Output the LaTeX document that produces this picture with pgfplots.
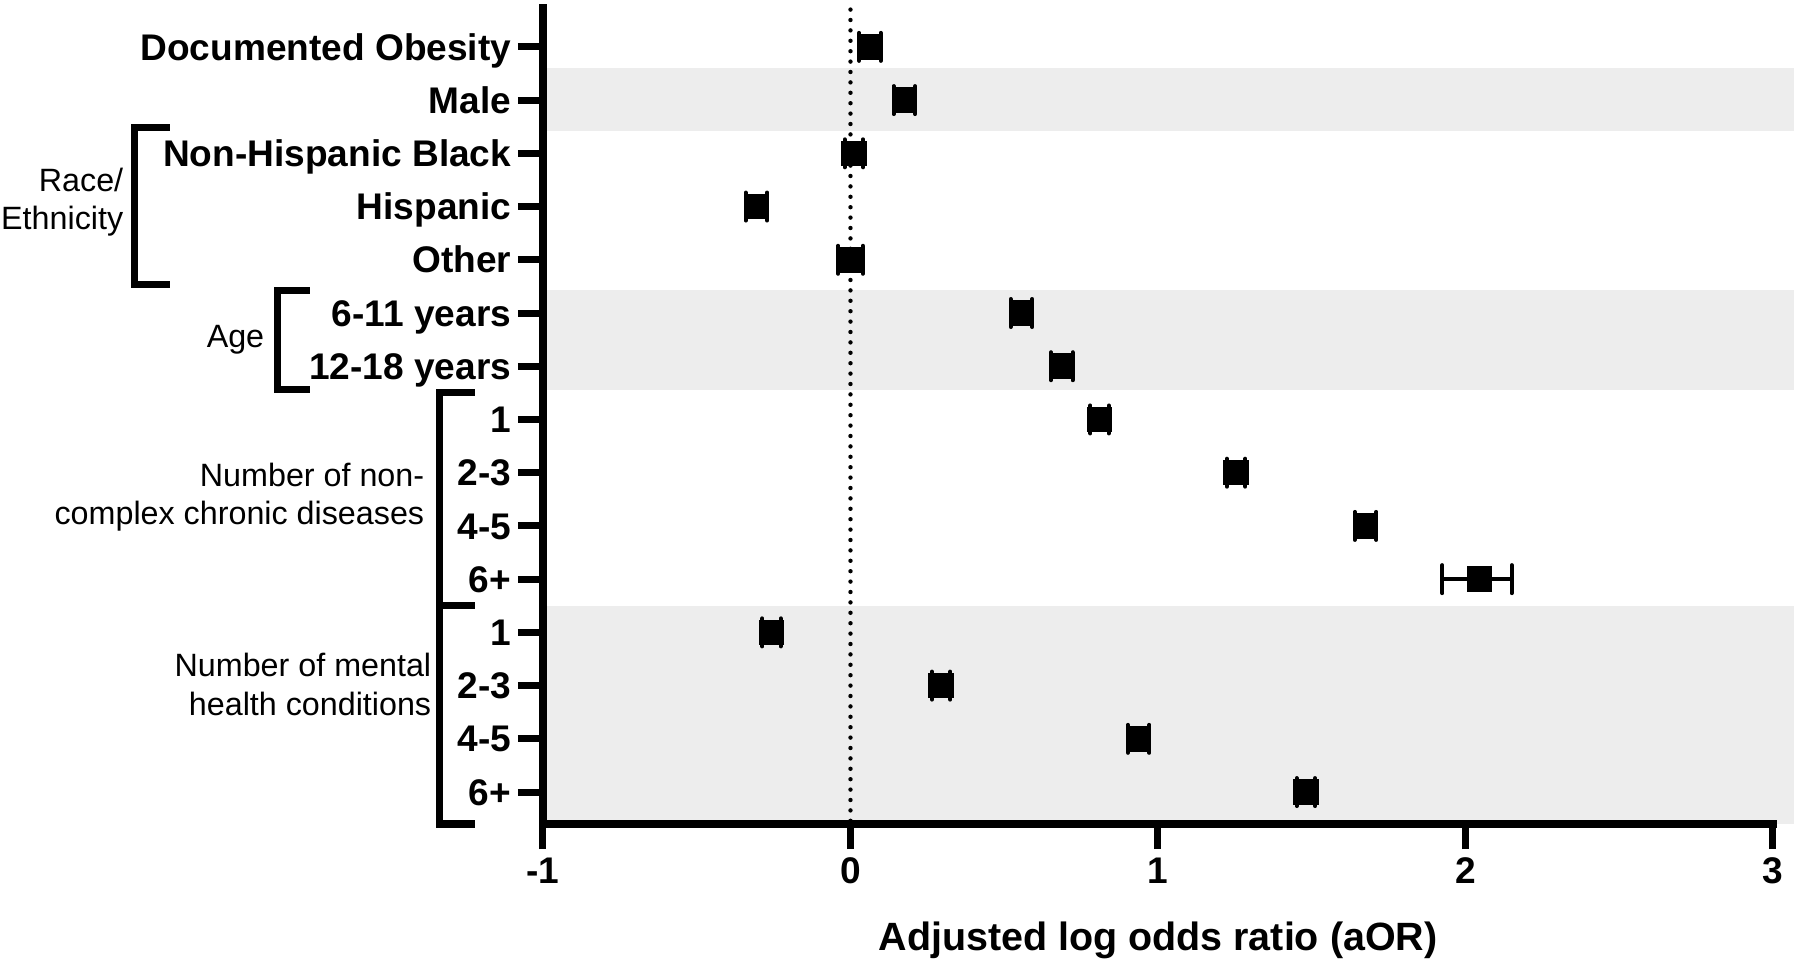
\documentclass[border=0pt]{standalone}
\usepackage{pgfplots}
\pgfplotsset{compat=1.18}
\usepackage{fontspec}
\setmainfont{Liberation Sans}
\definecolor{band}{HTML}{EDEDED}

% rows: y = -row, x = adjusted log odds ratio, ep/em = CI half widths
\pgfplotstableread{
y    x      ep     em
0    0.063  0.035  0.035
-1   0.175  0.035  0.035
-2   0.011  0.030  0.030
-3  -0.306  0.035  0.035
-4   0.000  0.040  0.040
-5   0.556  0.035  0.035
-6   0.687  0.035  0.035
-7   0.810  0.030  0.030
-8   1.254  0.030  0.030
-9   1.675  0.035  0.035
-10  2.045  0.105  0.120
-11 -0.257  0.030  0.030
-12  0.295  0.030  0.030
-13  0.937  0.035  0.035
-14  1.481  0.030  0.030
}\aor

\begin{document}
\begin{tikzpicture}
\begin{axis}[
    scale only axis,
    width=307.5bp, height=204bp,
    xmin=-1, xmax=3, ymin=-14.6, ymax=0.73,
    axis x line*=bottom, axis y line*=left,
    axis line style={-, line width=1.9bp, line cap=rect},
    axis on top,
    clip=false,
    tick align=outside,
    major tick length=6.25bp,
    tick style={line width=1.75bp, black},
    xtick={-1,0,1,2,3},
    ytick={-14,-13,...,0},
    yticklabels={6+,4-5,2-3,1,6+,4-5,2-3,1,12-18 years,6-11 years,Other,Hispanic,Non-Hispanic Black,Male,Documented Obesity},
    /pgf/number format/assume math mode=true,
    ticklabel style={font=\fontsize{9.3}{11}\selectfont\bfseries},
    yticklabel style={inner sep=0pt, anchor=base east, xshift=-1.5bp, yshift=-3.3pt},
    xticklabel style={inner sep=0pt, yshift=-2bp},
    xlabel={Adjusted log odds ratio (aOR)},
    xlabel style={font=\fontsize{9.9}{12}\selectfont\bfseries, at={(axis description cs:0.5,0)}, anchor=center, yshift=-29bp},
]
% shaded bands
\fill[band] (axis cs:-1,-0.39) rectangle ([xshift=5.25bp]axis cs:3,-1.58);
\fill[band] (axis cs:-1,-4.57) rectangle ([xshift=5.25bp]axis cs:3,-6.45);
\fill[band] (axis cs:-1,-10.5) rectangle ([xshift=5.25bp]axis cs:3,-14.6);
% reference line at 0
\draw[line width=1.1bp, line cap=round, dash pattern=on 0pt off 2.6bp] (axis cs:0,0.7) -- (axis cs:0,-14.6);

\addplot[only marks, mark=square*, mark size=3.0bp, black,
    error bars/.cd, x dir=both, x explicit, error mark=|,
    error bar style={line width=1bp, black},
    error mark options={line width=1bp, mark size=3.5bp, black, line cap=round}]
    table[x=x, y=y, x error plus=ep, x error minus=em] {\aor};

% group brackets
\begin{scope}[line width=1.75bp]
\draw ([xshift=-93.25bp]axis cs:-1,-1.51) -- ([xshift=-102bp]axis cs:-1,-1.51) -- ([xshift=-102bp]axis cs:-1,-4.47) -- ([xshift=-93.25bp]axis cs:-1,-4.47);
\draw ([xshift=-58.25bp]axis cs:-1,-4.57) -- ([xshift=-66.25bp]axis cs:-1,-4.57) -- ([xshift=-66.25bp]axis cs:-1,-6.43) -- ([xshift=-58.25bp]axis cs:-1,-6.43);
\draw ([xshift=-17bp]axis cs:-1,-6.49) -- ([xshift=-25.75bp]axis cs:-1,-6.49) -- ([xshift=-25.75bp]axis cs:-1,-14.6) -- ([xshift=-17bp]axis cs:-1,-14.6);
\draw ([xshift=-25.75bp]axis cs:-1,-10.5) -- ([xshift=-17bp]axis cs:-1,-10.5);
\end{scope}
\begin{scope}[every node/.style={font=\fontsize{8.1}{9.6}\selectfont, align=right, anchor=east, inner sep=0pt}]
\node at ([xshift=-104.75bp]axis cs:-1,-2.92) {Race/\\Ethnicity};
\node at ([xshift=-69.5bp]axis cs:-1,-5.5) {Age};
\node at ([xshift=-29.5bp]axis cs:-1,-8.46) {Number of non-\\complex chronic diseases};
\node at ([xshift=-27.75bp]axis cs:-1,-11.98) {Number of mental\\health conditions};
\end{scope}
\end{axis}
\pgfresetboundingbox
\path ([shift={(-135.75bp,-35.75bp)}]current axis.south west) rectangle ([shift={(6.75bp,2bp)}]current axis.north east);
\end{tikzpicture}
\end{document}
